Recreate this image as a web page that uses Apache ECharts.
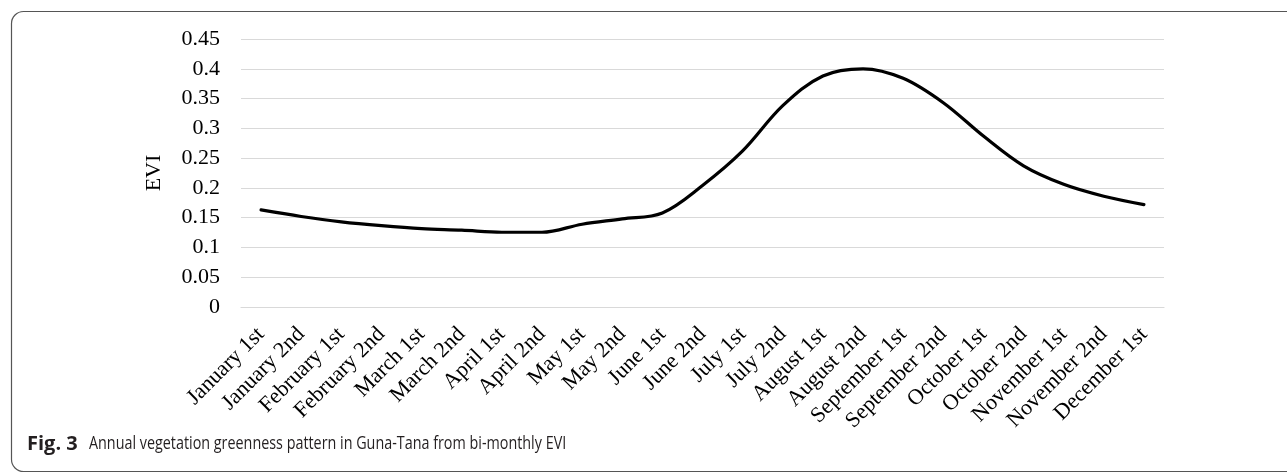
<!DOCTYPE html>
<html>
<head>
<meta charset="utf-8">
<script src="https://cdn.jsdelivr.net/npm/echarts@6/dist/echarts.min.js"></script>
<style>
html,body{margin:0;padding:0;background:#fff;}
#chart{width:1287px;height:473px;}
</style>
</head>
<body>
<div id="chart"></div>
<script>
const categories = ["January 1st","January 2nd","February 1st","February 2nd","March 1st","March 2nd","April 1st","April 2nd","May 1st","May 2nd","June 1st","June 2nd","July 1st","July 2nd","August 1st","August 2nd","September 1st","September 2nd","October 1st","October 2nd","November 1st","November 2nd","December 1st"];
const eviValues = [0.163,0.152,0.143,0.1365,0.1315,0.129,0.1255,0.1255,0.139,0.148,0.158,0.204,0.262,0.338,0.388,0.400,0.384,0.343,0.287,0.237,0.206,0.186,0.172];
const yAxisName = "EVI";
const captionBold = "Fig. 3";
const captionText = "Annual vegetation greenness pattern in Guna-Tana from bi-monthly EVI";

const chart = echarts.init(document.getElementById('chart'), null, {renderer:'canvas'});
const serif = '"Liberation Serif","Times New Roman",serif';
chart.setOption({
  animation:false,
  backgroundColor:'#fff',
  grid:{left:241,right:123,top:39,bottom:166},
  xAxis:{
    type:'category',
    data:categories,
    boundaryGap:true,
    axisLine:{show:true,lineStyle:{color:'#d9d9d9',width:1.2}},
    axisTick:{show:false},
    axisLabel:{rotate:45,margin:24,color:'#000',fontFamily:serif,fontSize:22,interval:0}
  },
  yAxis:{
    type:'value',
    min:0,max:0.45,interval:0.05,
    name:yAxisName,
    nameLocation:'middle',
    nameGap:76,
    nameRotate:90,
    nameTextStyle:{color:'#000',fontFamily:serif,fontSize:22},
    axisLine:{show:false},
    axisTick:{show:false},
    axisLabel:{color:'#000',fontFamily:serif,fontSize:22,margin:21,formatter:v=>String(+v.toFixed(2))},
    splitLine:{lineStyle:{color:'#d9d9d9',width:1.2}}
  },
  series:[{
    type:'line',
    data:eviValues,
    smooth:0.35,
    symbol:'none',
    lineStyle:{color:'#000',width:3.2,cap:'round'}
  }],
  graphic:[
    {type:'rect',z:100,shape:{x:11.5,y:11.5,width:1320,height:460,r:12},style:{fill:'none',stroke:'#555',lineWidth:1.2}},
    {type:'text',z:100,x:27,y:444,style:{text:captionBold,font:'bold 20px "Open Sans",sans-serif',fill:'#231f20',verticalAlign:'middle'}},
    {type:'text',z:100,x:89,y:444,scaleX:0.755,style:{text:captionText,font:'19px "Open Sans",sans-serif',fill:'#231f20',verticalAlign:'middle'}}
  ]
});
</script>
</body>
</html>
